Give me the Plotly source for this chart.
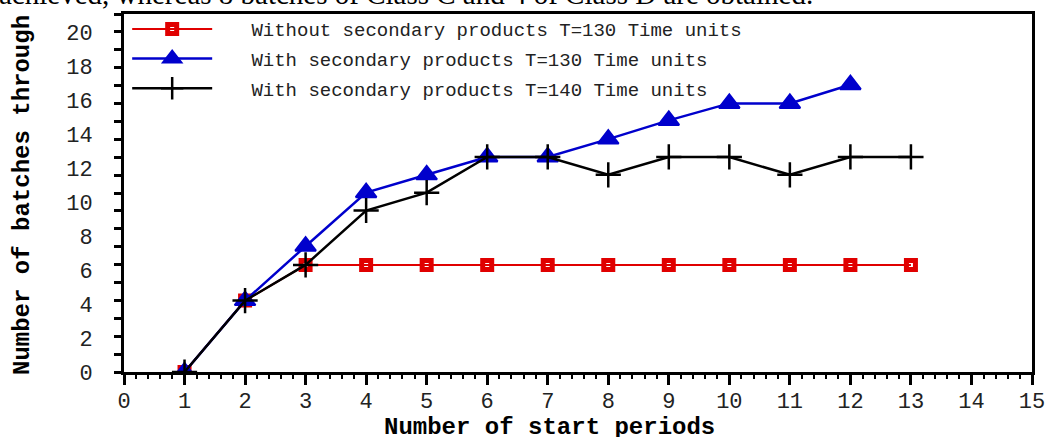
import plotly.graph_objects as go

# ---- data (values read against the drawn y-axis labels) ----
periods_red = [1, 2, 3, 4, 5, 6, 7, 8, 9, 10, 11, 12, 13]
without_sec_130 = [0, 4.2, 6.3, 6.3, 6.3, 6.3, 6.3, 6.3, 6.3, 6.3, 6.3, 6.3, 6.3]

periods_blue = [1, 2, 3, 4, 5, 6, 7, 8, 9, 10, 11, 12]
with_sec_130 = [0, 4.2, 7.4, 10.55, 11.6, 12.65, 12.65, 13.7, 14.8, 15.8, 15.8, 16.9]

periods_black = [1, 2, 3, 4, 5, 6, 7, 8, 9, 10, 11, 12, 13]
with_sec_140 = [0, 4.2, 6.3, 9.5, 10.55, 12.65, 12.65, 11.6, 12.65, 12.65, 11.6, 12.65, 12.65]

names = ["Without secondary products T=130 Time units",
         "With secondary products T=130 Time units",
         "With secondary products T=140 Time units"]

x_ticks = list(range(0, 16))
y_ticks = list(range(0, 21, 2))

x_title = "Number of start periods"
y_title = "Number of batches through"
top_text = "achieved, whereas 8 batches of Class C and 4 of Class D are obtained."

RED = "#e00000"
BLUE = "#0000cc"
BLACK = "#000000"
MONO = "Liberation Mono, Courier New, monospace"
PAD = "\u00a0\u00a0\u00a0"

fig = go.Figure()
fig.add_trace(go.Scatter(
    x=periods_red, y=without_sec_130, name=PAD + names[0], mode="lines+markers",
    line=dict(color=RED, width=2),
    marker=dict(symbol="square-open", size=9, color=RED, line=dict(color=RED, width=5)),
    legendgroup="a"))
fig.add_trace(go.Scatter(
    x=periods_blue, y=with_sec_130, name=PAD + names[1], mode="lines+markers",
    line=dict(color=BLUE, width=2.5),
    marker=dict(symbol="triangle-up", size=18, color=BLUE, line=dict(color=BLUE, width=2)),
    legendgroup="b"))
fig.add_trace(go.Scatter(
    x=periods_black, y=with_sec_140, name=PAD + names[2], mode="lines+markers",
    line=dict(color=BLACK, width=2.5),
    marker=dict(symbol="cross-thin", size=18, color=BLACK, line=dict(color=BLACK, width=2.5)),
    legendgroup="c"))

YMAX = 21.06
fig.update_layout(
    width=1047, height=437,
    margin=dict(l=124, r=15, t=14, b=65, autoexpand=False),
    paper_bgcolor="white", plot_bgcolor="white",
    showlegend=True,
    legend=dict(x=0.0035, y=1.011, xanchor="left", yanchor="top",
                font=dict(family=MONO, size=19, color="#222"),
                bgcolor="rgba(0,0,0,0)", tracegroupgap=2, itemwidth=80),
    xaxis=dict(range=[0, 15], tickvals=x_ticks, showgrid=False, zeroline=False,
               automargin=False,
               showline=True, linecolor="black", linewidth=3, mirror=True,
               ticks="outside", ticklen=10, tickwidth=2.5, tickcolor="black",
               minor=dict(dtick=0.2, ticks="outside", ticklen=4, tickwidth=2, tickcolor="black"),
               tickfont=dict(family=MONO, size=22, color="#222"), ticklabelstandoff=-3),
    yaxis=dict(range=[0, YMAX], tickvals=y_ticks, showgrid=False, zeroline=False,
               automargin=False,
               showline=True, linecolor="black", linewidth=3, mirror=True,
               ticks="", ticklen=0,
               minor=dict(tick0=0, dtick=YMAX / 20, ticks="outside", ticklen=7, tickwidth=2.5,
                          tickcolor="black"),
               tickfont=dict(family=MONO, size=22, color="#222"), ticklabelstandoff=24),
    yaxis2=dict(range=[0, YMAX], overlaying="y", side="left", anchor="x",
                automargin=False,
                showgrid=False, zeroline=False, showline=False, showticklabels=False,
                tick0=0, dtick=YMAX / 10, ticks="outside", ticklen=13, tickwidth=2.5,
                tickcolor="black"),
    annotations=[
        dict(text=top_text, xref="paper", yref="paper", x=0, y=1, xanchor="left",
             yanchor="bottom", xshift=-127, yshift=2, showarrow=False,
             font=dict(family="Liberation Serif, Times New Roman, serif", size=29, color="black")),
        dict(text="<b>" + y_title + "</b>", xref="paper", yref="paper", x=0, y=0.5,
             xanchor="center", yanchor="middle", xshift=-102, yshift=-2, textangle=-90,
             showarrow=False, font=dict(family=MONO, size=24, color="black")),
        dict(text="<b>" + x_title + "</b>", xref="paper", yref="paper", x=0.5, y=0,
             xanchor="center", yanchor="middle", xshift=-29, yshift=-55,
             showarrow=False, font=dict(family=MONO, size=24, color="black")),
    ],
)

fig.write_html("out.html", config={"displayModeBar": False},
               post_script="document.body.style.margin='0';document.body.style.overflow='hidden';")
